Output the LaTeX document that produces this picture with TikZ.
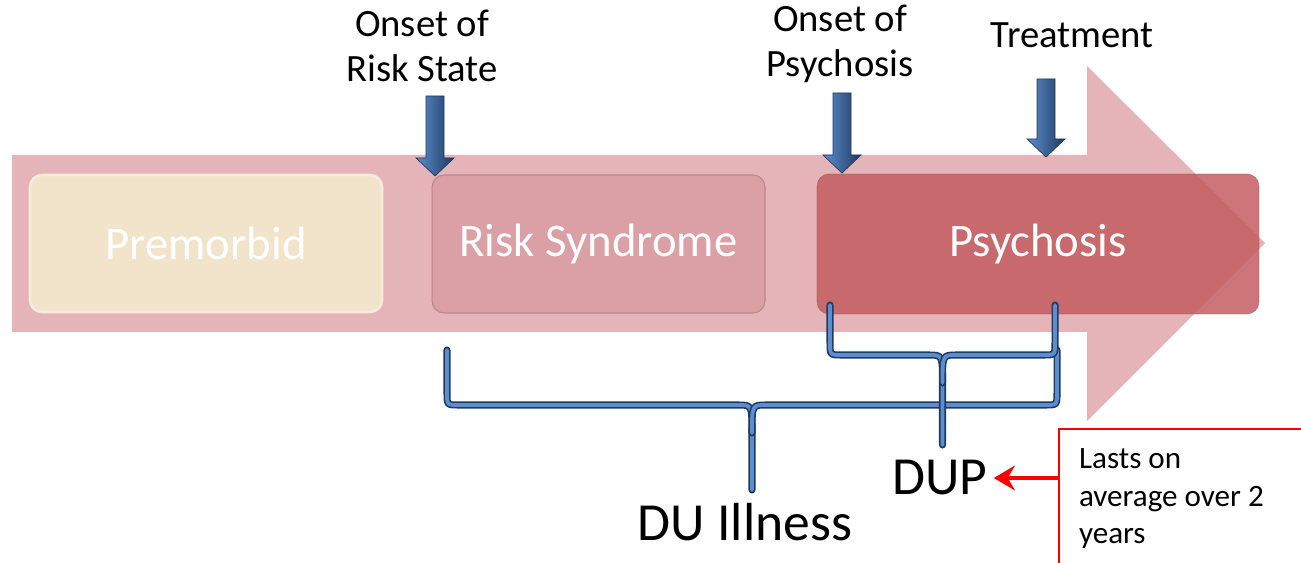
\documentclass[tikz,border=0pt]{standalone}
\usepackage{fontspec}
\setmainfont{Carlito}
\usetikzlibrary{arrows.meta,calc}

\definecolor{rosaflecha}{HTML}{E4B4B8}
\definecolor{crema}{HTML}{F2E4CB}
\definecolor{rosariesgo}{HTML}{DBA0A5}
\definecolor{rojopsico}{HTML}{C45D61}
\definecolor{azuloscuro}{HTML}{1F3A60}
\definecolor{azulclaro}{HTML}{5C8ECF}

\begin{document}
\begin{tikzpicture}[x=0.02cm,y=-0.02cm]

% definiciones

% estilos de linea y relleno
\tikzset{
  caja/.style     = {rounded corners=0.24cm, text=white, font=\fontsize{26.6}{32}\selectfont},
  rotulo/.style   = {align=center, font=\fontsize{22}{26}\selectfont},
  duracion/.style = {font=\fontsize{30.5}{36}\selectfont},
  llavelin/.style = {line width=0.9pt, draw=azuloscuro, double=azulclaro, double distance=2.2pt, line cap=round},
  avisorojo/.style= {red, line width=2.3pt, -{Stealth[length=12pt,width=14pt,inset=4pt]}}
}

% flecha azul vertical
% #1: x de la flecha
% #2: y inicio del fuste
% #3: y de la punta
\newcommand{\flechaazul}[3]{
  \coordinate (P) at (#1,#3); % punta
  \shade [left color=azulclaro, right color=azuloscuro, draw=azuloscuro, line width=0.4pt]
    (#1-9,#2) -- (#1+9,#2) -- (#1+9,#3-18) -- (#1+19,#3-18) -- (P)
    -- (#1-19,#3-18) -- (#1-9,#3-18) -- cycle;
}

% llave horizontal
% #1: x izquierda
% #2: x derecha
% #3: y de los extremos
% #4: y del tramo horizontal
% #5: y de la punta
\newcommand{\llave}[5]{
  \pgfmathsetmacro{\xc}{(#1+#2)/2}
  \draw [llavelin] (#1,#3) -- (#1,#4-12) .. controls (#1,#4) .. (#1+12,#4)
    -- (\xc-14,#4) .. controls (\xc,#4) .. (\xc,#4+28) -- (\xc,#5);
  \draw [llavelin] (#2,#3) -- (#2,#4-12) .. controls (#2,#4) .. (#2-12,#4)
    -- (\xc+14,#4) .. controls (\xc,#4) .. (\xc,#4+28);
}

\useasboundingbox (0,0) rectangle (1301,563);
\clip (0,0) rectangle (1301,563);

% flecha de fondo
\fill [rosaflecha] (12,155) -- (1087,155) -- (1087,66) -- (1265,243)
  -- (1087,421) -- (1087,332) -- (12,332) -- cycle;

% etapas
\node [caja, fill=crema, draw=crema!70!white, line width=1.5pt,
  minimum width=7.04cm, minimum height=2.74cm] (premorbido) at (206,243.5) {Premorbid};
\node [caja, fill=rosariesgo, draw=rosariesgo!85!black, line width=0.6pt,
  minimum width=6.66cm, minimum height=2.76cm] (riesgo) at (598.5,244) {Risk Syndrome};
\node [caja, fill=rojopsico, fill opacity=0.85, text opacity=1, draw=rojopsico!80!black, draw opacity=0.5,
  minimum width=8.84cm, minimum height=2.8cm] (psicosis) at (1038,244) {Psychosis};

% rotulos superiores
\node [rotulo] (inirriesgo) at (422,46) {Onset of\\Risk State};
\node [rotulo] (inipsico) at (840,44) {Onset of\\Psychosis};
\node [rotulo] (tratamiento) at (1072,35) {Treatment};

% flechas azules
\flechaazul{435}{96}{176}
\flechaazul{842}{93}{173}
\flechaazul{1046}{79}{157}

% llaves
\llave{447}{1057}{350}{405}{490}
\llave{830}{1055}{305}{355}{445}

% duraciones
\node [duracion] (dui) at (745,522) {DU Illness};
\node [duracion] (dup) at (940,478) {DUP};

% nota
\node [draw=red, line width=1.2pt, anchor=north west, text width=4.7cm, align=flush left,
  inner xsep=0.4cm, inner ysep=0.14cm, minimum height=2.78cm,
  font=\fontsize{17.7}{21.5}\selectfont] (nota) at (1058,428)
  {Lasts on\\average over 2\\years};
\draw [avisorojo] (nota.west |- dup.east) -- (dup.east);

\end{tikzpicture}
\end{document}
